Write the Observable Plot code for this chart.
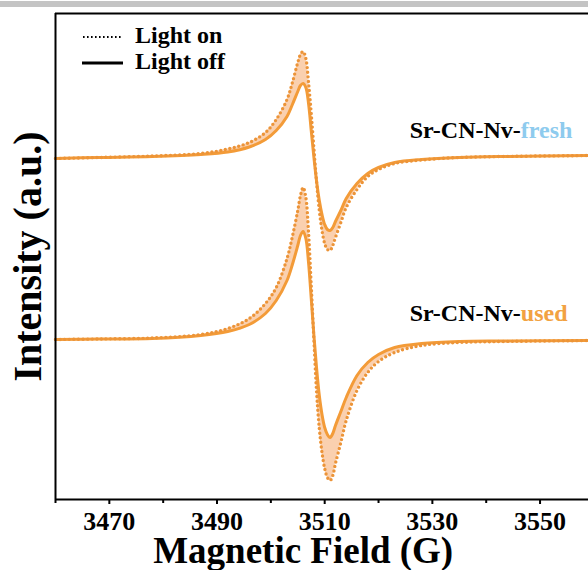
<!DOCTYPE html>
<html>
<head>
<meta charset="utf-8">
<script src="https://cdn.jsdelivr.net/npm/d3@7"></script>
<script src="https://cdn.jsdelivr.net/npm/@observablehq/plot@0.6"></script>
<style>
  html, body { margin: 0; padding: 0; background: #fff; overflow: hidden; }
  #chart { position: relative; width: 588px; height: 570px; }
</style>
</head>
<body>
<div id="chart"></div>
<script>
// Magnetic field (G)
const field = [3460, 3468, 3478, 3487, 3492, 3496, 3499, 3501, 3503, 3504, 3505, 3505.5, 3506, 3506.5, 3507, 3507.5, 3508, 3508.5, 3509, 3509.5, 3510, 3510.5, 3511, 3511.5, 3512, 3513, 3514, 3516, 3518, 3520, 3523, 3528, 3535, 3543, 3560];
// Intensities (a.u., offset for stacking)
const freshOff = [341, 342, 343, 345, 347.5, 352.5, 360, 369, 383, 395, 408, 414, 416, 412, 396, 369, 342, 318, 299, 285, 275, 270, 269, 272, 278, 289, 301, 316, 326, 332, 337, 340, 342, 343, 344];
const freshOn  = [341, 342, 343.5, 346, 350.5, 357, 367, 380, 400, 417, 437, 445, 448, 441, 417, 386, 351, 317, 289, 269, 256, 250, 249, 254, 262, 277, 292, 310, 323, 330, 336, 339.5, 342, 343, 344];
const usedOff  = [160, 160.5, 161, 164, 168, 175, 186, 199, 219, 235, 254, 264, 268, 261, 237, 201, 164, 131, 104, 85, 72, 65, 62, 66, 74, 88, 102, 124, 137, 145, 152, 156, 158, 158.5, 159];
const usedOn   = [160, 160.5, 161.5, 165, 171, 181, 196, 212, 241, 263, 289, 304, 312, 302, 267, 214, 159, 107, 71, 47, 31, 22, 19, 24, 36, 57, 79, 109, 127, 138, 147, 154, 157, 158, 159];

const majorTicks = [3470, 3490, 3510, 3530, 3550];
const minorTicks = [3460, 3480, 3500, 3520, 3540];
const sampleNames = ["Sr-CN-Nv-fresh", "Sr-CN-Nv-used"];
const legendLabels = ["Light on", "Light off"];

const fresh = field.map((f, i) => ({field: f, off: freshOff[i], on: freshOn[i]}));
const used = field.map((f, i) => ({field: f, off: usedOff[i], on: usedOn[i]}));

const orange = "#f39b38";
const curve = "catmull-rom";
const serif = "'Liberation Serif', 'Times New Roman', serif";

function pairMarks(rows) {
  return [
    Plot.areaY(rows, {x: "field", y1: "off", y2: "on", curve, fill: "#f7b07a", fillOpacity: 0.6}),
    Plot.line(rows, {x: "field", y: "off", curve, stroke: orange, strokeWidth: 3}),
    Plot.line(rows, {x: "field", y: "on", curve, stroke: "#ec9438", strokeWidth: 3.4, strokeDasharray: "0,4.6", strokeLinecap: "round"})
  ];
}

const chart = Plot.plot({
  width: 588,
  height: 570,
  marginLeft: 55,
  marginRight: 0,
  marginTop: 13,
  marginBottom: 71,
  style: {fontFamily: serif, fontWeight: "bold", color: "#000", background: "#fff", overflow: "visible"},
  x: {domain: [3460, 3559]},
  y: {domain: [0, 486], axis: null},
  marks: [
    ...pairMarks(fresh),
    ...pairMarks(used),
    Plot.ruleX([3460], {stroke: "#000", strokeWidth: 2}),
    Plot.ruleY([0, 486], {stroke: "#000", strokeWidth: 2}),
    Plot.axisX({ticks: majorTicks, tickSize: 5, tickPadding: 7, fontSize: 26, fontWeight: "bold", stroke: "#000", fill: "#000", strokeWidth: 2, tickFormat: d => String(d), label: null}),
    Plot.axisX({ticks: minorTicks, tickSize: 4, stroke: "#000", fill: "none", strokeWidth: 2, label: null}),
    Plot.text(["Magnetic Field (G)"], {text: d => d, x: () => 3506, frameAnchor: "bottom", dy: 63, lineAnchor: "bottom", fontSize: 37, fontWeight: "bold", fill: "#000"}),
    Plot.text(["Intensity (a.u.)"], {text: d => d, frameAnchor: "left", dx: -27, rotate: -90, textAnchor: "middle", lineAnchor: "middle", fontSize: 40, fontWeight: "bold", fill: "#000"}),
    Plot.text([sampleNames[0]], {text: d => d, x: () => 3525.8, y: () => 362, textAnchor: "start", lineAnchor: "bottom", fontSize: 24, fontWeight: "bold", fill: "#000"}),
    Plot.text([sampleNames[1]], {text: d => d, x: () => 3525.8, y: () => 179, textAnchor: "start", lineAnchor: "bottom", fontSize: 24, fontWeight: "bold", fill: "#000"})
  ]
});

document.getElementById("chart").appendChild(chart);

const svg = d3.select(chart);
// colour the suffix of the sample labels
svg.selectAll("text").each(function() {
  const t = this.textContent;
  const m = /^(Sr-CN-Nv-)(fresh|used)$/.exec(t);
  if (m) {
    const sel = d3.select(this);
    sel.text(null);
    sel.append("tspan").text(m[1]).attr("fill", "#000");
    sel.append("tspan").text(m[2]).attr("fill", m[2] === "fresh" ? "#8ecbee" : "#f2a242");
  }
});

// grey strip at top
svg.insert("rect", ":first-child").attr("x", 0).attr("y", 1).attr("width", 588).attr("height", 6).attr("fill", "#c4c4c4");

// legend
const lg = svg.append("g").attr("font-family", serif).attr("font-weight", "bold").attr("font-size", 24).attr("text-anchor", "start");
lg.append("line").attr("x1", 83).attr("x2", 123).attr("y1", 37).attr("y2", 37)
  .attr("stroke", "#000").attr("stroke-width", 2).attr("stroke-dasharray", "1.6,2.4");
lg.append("text").attr("x", 135).attr("y", 43).attr("fill", "#000").text(legendLabels[0]);
lg.append("line").attr("x1", 82).attr("x2", 123).attr("y1", 63).attr("y2", 63)
  .attr("stroke", "#000").attr("stroke-width", 3);
lg.append("text").attr("x", 135).attr("y", 69).attr("fill", "#000").text(legendLabels[1]);
</script>
</body>
</html>
